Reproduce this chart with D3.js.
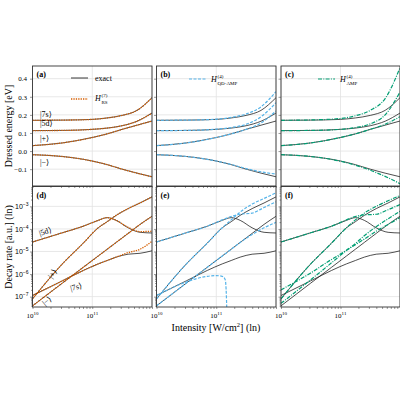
<!DOCTYPE html>
<html><head><meta charset="utf-8">
<script src="https://cdn.jsdelivr.net/npm/d3@7"></script>
<style>body{margin:0;background:#fff}svg{font-family:"Liberation Serif","DejaVu Serif",serif}</style>
</head><body><svg id="c" width="400" height="400"></svg>
<script>
const logItop = [10,10.5,11,11.25,11.5,11.75,12];
const ex7s = [.170,.171,.175,.183,.197,.225,.295];
const ex5d = [.113,.114,.12,.127,.14,.165,.21];
const exPlus = [.03,.045,.075,.095,.12,.143,.166];
const exMinus = [-.02,-.03,-.055,-.075,-.1,-.122,-.142];
const qd7s = [.170,.171,.176,.186,.205,.245,.328];
const qd5d = [.113,.114,.121,.13,.148,.19,.267];
const qdPlus = [.03,.045,.075,.095,.12,.155,.222];
const qdMinus = [-.02,-.03,-.055,-.074,-.097,-.115,-.127];
const amp7s = [.170,.172,.18,.195,.225,.29,.46];
const amp5d = [.113,.114,.12,.13,.15,.2,.326];
const ampPlus = [.03,.045,.075,.095,.12,.148,.19];
const ampMinus = [-.02,-.03,-.056,-.078,-.106,-.14,-.18];

const logIbot = [10,10.5,10.85,11.1,11.25,11.4,11.6,11.8,12];
const dEx5d = [-4.58,-4.17,-3.88,-3.62,-3.5,-3.62,-3.95,-4.15,-4.18];
const dExPlus = [-7.1,-5.55,-4.63,-3.95,-3.68,-3.4,-3.1,-2.85,-2.58];
const dExMinus = [-7.41,-6.4,-5.7,-5.2,-4.9,-4.6,-4.2,-3.8,-3.44];
const dEx7s = [-6.95,-6.3,-5.84,-5.55,-5.4,-5.25,-5.12,-5.08,-4.97];
const dRs5d = [-4.58,-4.17,-3.88,-3.62,-3.5,-3.62,-3.93,-4.12,-4.1];
const dRs7s = [-6.95,-6.3,-5.84,-5.55,-5.4,-5.25,-5.05,-4.9,-4.55];
const dQd5d = [-4.58,-4.17,-3.88,-3.6,-3.45,-3.35,-3.3,-3.05,-2.8];
const dQdPlus = [-7.1,-5.55,-4.63,-3.95,-3.6,-3.25,-2.9,-2.65,-2.4];
const dQdMinus = [-7.41,-6.4,-5.7,-5.2,-4.9,-4.6,-4.25,-3.95,-3.71];
const logIqd7s = [10,10.5,10.85,11.0,11.1,11.15,11.17,11.18];
const dQd7s = [-6.95,-6.35,-6.1,-6.07,-6.1,-6.25,-7,-8];
const dAmp5d = [-4.58,-4.17,-3.88,-3.6,-3.45,-3.38,-3.35,-3.15,-2.92];
const dAmpPlus = [-7.1,-5.55,-4.63,-3.95,-3.6,-3.3,-3.0,-2.75,-2.52];
const dAmpMinus = [-7.3,-6.25,-5.5,-4.95,-4.65,-4.3,-3.9,-3.55,-3.22];
const dAmp7s = [-6.7,-5.95,-5.35,-4.95,-4.7,-4.45,-4.1,-3.8,-3.5];

const yTopTicks = [-0.1,0,0.1,0.2,0.3,0.4];
const yBotTicks = [-7,-6,-5,-4,-3];

const ORANGE="#d55e00", BLUE="#56b4e9", GREEN="#009e73";
const svg=d3.select("#c");
const cols=[[32.5,152],[156.5,276],[281,400]];
const rows=[[66,186],[186.5,307]];
const defs=svg.append("defs");
const line=(xs,ys,xS,yS)=>d3.line().curve(d3.curveMonotoneX)(xs.map((x,i)=>[xS(Math.pow(10,x)),yS(ys[i])]));
const lineL=(xs,ys,xS,yS)=>d3.line().curve(d3.curveMonotoneX)(xs.map((x,i)=>[xS(Math.pow(10,x)),yS(Math.pow(10,ys[i]))]));

function panel(ci,ri,id){
  const [x0,x1]=cols[ci],[y0,y1]=rows[ri];
  const xS=d3.scaleLog().domain([1e10,1e12]).range([x0,x1]);
  const yS= ri==0? d3.scaleLinear().domain([-0.193,0.47]).range([y1,y0])
                 : d3.scaleLog().domain([Math.pow(10,-7.46),Math.pow(10,-2.12)]).range([y1,y0]);
  defs.append("clipPath").attr("id",id).append("rect").attr("x",x0).attr("y",y0).attr("width",x1-x0).attr("height",y1-y0);
  const g=svg.append("g");
  const gx=[1e10,1e11,1e12];
  g.selectAll(null).data(gx).join("line").attr("x1",d=>xS(d)).attr("x2",d=>xS(d)).attr("y1",y0).attr("y2",y1).attr("stroke","#e2e2e2").attr("stroke-width",0.8);
  const yt= ri==0? yTopTicks : yBotTicks.map(v=>Math.pow(10,v));
  g.selectAll(null).data(yt).join("line").attr("x1",x0).attr("x2",x1).attr("y1",d=>yS(d)).attr("y2",d=>yS(d)).attr("stroke","#e2e2e2").attr("stroke-width",0.8);
  const ax=svg.append("g").attr("transform",`translate(0,${y1})`).call(d3.axisBottom(xS).tickValues([1e10,2e10,3e10,4e10,5e10,6e10,7e10,8e10,9e10,1e11,2e11,3e11,4e11,5e11,6e11,7e11,8e11,9e11,1e12]).tickSize(2).tickFormat(()=>""));
  ax.select(".domain").remove(); ax.selectAll("line").attr("stroke","#333").attr("stroke-width",0.5);
  const ay=svg.append("g").attr("transform",`translate(${x0},0)`);
  if(ri==0){ay.call(d3.axisLeft(yS).tickValues(yTopTicks).tickSize(2.5).tickFormat(ci==0?(d=>d==0?"0.0":(d<0?"\u2212":"")+Math.abs(d).toFixed(1)):()=>""));
    ay.selectAll("text").attr("font-size",7).attr("font-family","Liberation Serif");}
  else{
    const minor=[];for(let e=-8;e<=-2;e++)for(let m=1;m<10;m++){const v=m*Math.pow(10,e);if(v>=yS.domain()[0]&&v<=yS.domain()[1])minor.push(v);}
    ay.call(d3.axisLeft(yS).tickValues(minor).tickSize(1.5).tickFormat(()=>""));
    const maj=ay.selectAll(".tick").filter(d=>Math.abs(Math.log10(d)-Math.round(Math.log10(d)))<1e-6);
    maj.select("line").attr("x2",-2.5);
    if(ci==0){maj.append("text").attr("x",-4).attr("dy","0.32em").attr("fill","#000").attr("text-anchor","end").attr("font-size",7)
       .html(d=>`10<tspan dy="-3" font-size="5">\u2212${-Math.round(Math.log10(d))}</tspan>`);}
  }
  ay.select(".domain").remove(); ay.selectAll("line").attr("stroke","#333").attr("stroke-width",0.5);
  const pl=svg.append("g").attr("clip-path",`url(#${id})`);
  return {xS,yS,pl};
}
function draw(ctx,xs,ys,color,dash,w,log){
  ctx.pl.append("path").attr("d",(log?lineL:line)(xs,ys,ctx.xS,ctx.yS)).attr("fill","none").attr("stroke",color).attr("stroke-width",w||0.8).attr("stroke-dasharray",dash||null);
}
const pa=panel(0,0,"ca"),pb=panel(1,0,"cb"),pc=panel(2,0,"cc");
const pd=panel(0,1,"cd"),pe=panel(1,1,"ce"),pf=panel(2,1,"cf");
const exTop=[ex7s,ex5d,exPlus,exMinus];
[pa,pb,pc].forEach(p=>exTop.forEach(s=>draw(p,logItop,s,"#222",null,0.8)));
exTop.forEach(s=>draw(pa,logItop,s,ORANGE,"1.3,1.1",1.3));
[qd7s,qd5d,qdPlus,qdMinus].forEach(s=>draw(pb,logItop,s,BLUE,"3,1.5",1.2));
[amp7s,amp5d,ampPlus,ampMinus].forEach(s=>draw(pc,logItop,s,GREEN,"4,1.3,1,1.3",1.2));
const exBot=[dEx5d,dExPlus,dExMinus,dEx7s];
[pd,pe,pf].forEach(p=>exBot.forEach(s=>draw(p,logIbot,s,"#222",null,0.8,true)));
[dRs5d,dExPlus,dExMinus,dRs7s].forEach(s=>draw(pd,logIbot,s,ORANGE,"1.3,1.1",1.3,true));
[dQd5d,dQdPlus,dQdMinus].forEach(s=>draw(pe,logIbot,s,BLUE,"3,1.5",1.2,true));
draw(pe,logIqd7s,dQd7s,BLUE,"3,1.5",1.2,true);
[dAmp5d,dAmpPlus,dAmpMinus,dAmp7s].forEach(s=>draw(pf,logIbot,s,GREEN,"4,1.3,1,1.3",1.2,true));

cols.forEach(c=>rows.forEach(r=>svg.append("rect").attr("x",c[0]).attr("y",r[0]).attr("width",c[1]-c[0]).attr("height",r[1]-r[0]).attr("fill","none").attr("stroke","#333").attr("stroke-width",0.9)));
cols.forEach(c=>{const xS=d3.scaleLog().domain([1e10,1e12]).range(c);
  [[1e10,10],[1e11,11]].forEach(([v,e])=>svg.append("text").attr("x",xS(v)).attr("y",318).attr("text-anchor","middle").attr("font-size",7).html(`10<tspan dy="-3" font-size="5">${e}</tspan>`));});
const labs=["(a)","(b)","(c)","(d)","(e)","(f)"];
labs.forEach((l,i)=>svg.append("text").attr("x",cols[i%3][0]+4).attr("y",rows[Math.floor(i/3)][0]+11).attr("font-size",8).attr("font-weight","bold").text(l));
svg.append("text").attr("transform","translate(12,126) rotate(-90)").attr("text-anchor","middle").attr("font-size",10).text("Dressed energy [eV]");
svg.append("text").attr("transform","translate(12,247) rotate(-90)").attr("text-anchor","middle").attr("font-size",10).text("Decay rate [a.u.] (ln)");
svg.append("text").attr("x",216).attr("y",331).attr("text-anchor","middle").attr("font-size",10).html('Intensity [W/cm<tspan dy="-4" font-size="6.5">2</tspan><tspan dy="4">] (ln)</tspan>');
function leg(x,y,color,dash,w){svg.append("line").attr("x1",x).attr("x2",x+17).attr("y1",y).attr("y2",y).attr("stroke",color).attr("stroke-width",w).attr("stroke-dasharray",dash);}
function hlab(x,y,sub){
  svg.append("text").attr("x",x).attr("y",y).attr("font-size",8).attr("font-style","italic").text("H");
  svg.append("text").attr("x",x+6.5).attr("y",y+2.5).attr("font-size",5).text(sub[0]);
  svg.append("text").attr("x",x+6.5).attr("y",y-4).attr("font-size",5).text(sub[1]);
}
leg(71,78,"#222",null,0.9);
svg.append("text").attr("x",95).attr("y",80.5).attr("font-size",8).text("exact");
leg(71,99,ORANGE,"1.3,1.1",1.3);
hlab(95,101,["RS","(7)"]);
leg(189,79,BLUE,"3,1.5",1.2);
hlab(211,82,["QD-AMP","(4)"]);
leg(318,79,GREEN,"4,1.3,1,1.3",1.2);
hlab(340,82,["AMP","(4)"]);
const st=[["|7s\u27E9",40,117],["|5d\u27E9",40,126],["|+\u27E9",40,141],["|\u2212\u27E9",40,165]];
st.forEach(([t,x,y])=>svg.append("text").attr("x",x).attr("y",y).attr("font-size",8).text(t));
const sb=[["|5d\u27E9",40,236,-18],["|+\u27E9",52,279,-55],["|7s\u27E9",71,291,-15],["|\u2212\u27E9",45,306,-40]];
sb.forEach(([t,x,y,r])=>svg.append("text").attr("transform",`translate(${x},${y}) rotate(${r})`).attr("font-size",8).text(t));
</script></body></html>
